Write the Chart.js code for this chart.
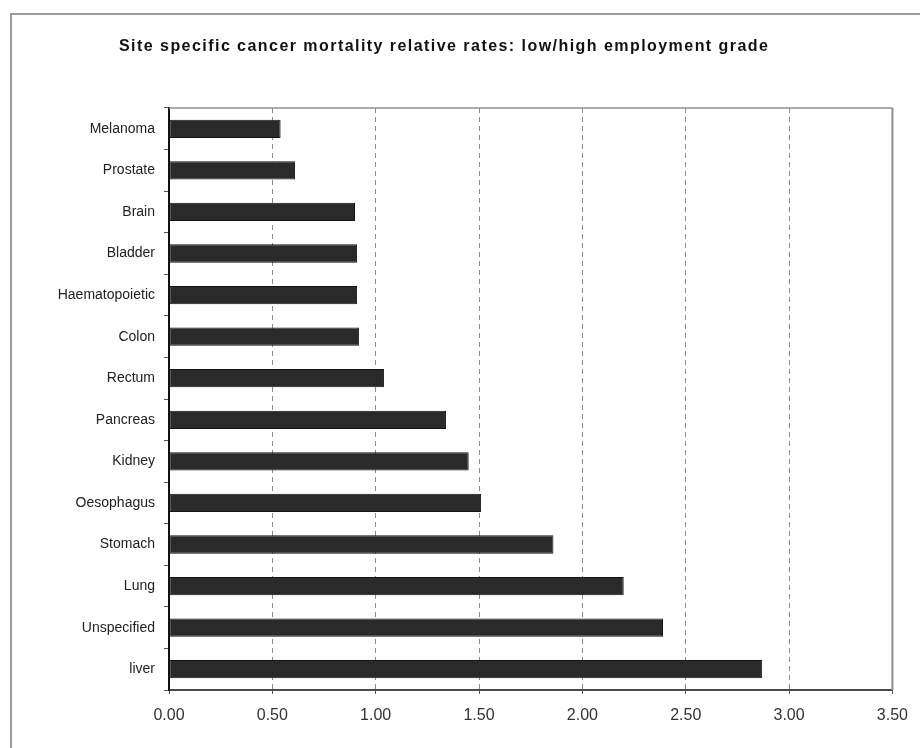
<!DOCTYPE html>
<html>
<head>
<meta charset="utf-8">
<title>Site specific cancer mortality relative rates</title>
<script src="https://cdn.jsdelivr.net/npm/chart.js@4/dist/chart.umd.min.js"></script>
<style>
  html, body { margin: 0; padding: 0; background: #fff; }
  #wrap { width: 920px; height: 748px; position: relative; }
</style>
</head>
<body>
<div id="wrap"><canvas id="chart" width="920" height="748"></canvas></div>
<script>
// Cancer sites, top to bottom
const sites = ['Melanoma', 'Prostate', 'Brain', 'Bladder', 'Haematopoietic', 'Colon', 'Rectum',
  'Pancreas', 'Kidney', 'Oesophagus', 'Stomach', 'Lung', 'Unspecified', 'liver'];

// Mortality relative rate, low vs high employment grade
const relativeRates = [0.54, 0.61, 0.90, 0.91, 0.91, 0.92, 1.04,
  1.34, 1.45, 1.51, 1.86, 2.20, 2.39, 2.87];

// Value axis range and step
const axisMin = 0;
const axisMax = 3.5;
const axisStep = 0.5;

const chartTitle = 'Site specific cancer mortality relative rates: low/high employment grade';

const FONT = "'Liberation Sans', Arial, Helvetica, sans-serif";

// Page frame, plot frame and title
const framePlugin = {
  id: 'frameAndTitle',
  beforeDraw(chart) {
    const ctx = chart.ctx;
    ctx.save();
    ctx.fillStyle = '#ffffff';
    ctx.fillRect(0, 0, chart.width, chart.height);
    ctx.strokeStyle = '#9c9c9c';
    ctx.lineWidth = 2;
    ctx.beginPath();
    ctx.moveTo(11, chart.height);
    ctx.lineTo(11, 14);
    ctx.lineTo(chart.width, 14);
    ctx.stroke();
    ctx.restore();
  },
  afterDraw(chart) {
    const ctx = chart.ctx;
    const a = chart.chartArea;
    ctx.save();
    ctx.strokeStyle = '#8f8f8f';
    ctx.lineWidth = 1.5;
    ctx.beginPath();
    ctx.moveTo(a.left, a.top);
    ctx.lineTo(a.right, a.top);
    ctx.stroke();
    ctx.lineWidth = 2;
    ctx.beginPath();
    ctx.moveTo(a.right, a.top);
    ctx.lineTo(a.right, a.bottom);
    ctx.stroke();

    ctx.fillStyle = '#111';
    ctx.font = 'bold 16px ' + FONT;
    ctx.textBaseline = 'middle';
    ctx.textAlign = 'left';
    if ('letterSpacing' in ctx) ctx.letterSpacing = '1.45px';
    ctx.fillText(chartTitle, 119, 47);
    ctx.restore();
  }
};

new Chart(document.getElementById('chart'), {
  type: 'bar',
  data: {
    labels: sites,
    datasets: [{
      data: relativeRates,
      backgroundColor: '#2a2a2a',
      borderColor: '#151515',
      borderWidth: 1,
      borderSkipped: false,
      categoryPercentage: 1,
      barPercentage: 0.44
    }]
  },
  options: {
    indexAxis: 'y',
    responsive: false,
    animation: false,
    events: [],
    layout: { padding: { top: 108, right: 27, left: 0, bottom: 0 } },
    plugins: {
      legend: { display: false },
      title: { display: false },
      tooltip: { enabled: false }
    },
    scales: {
      x: {
        min: axisMin,
        max: axisMax,
        afterFit(scale) { scale.height = 58; },
        ticks: {
          stepSize: axisStep,
          color: '#333',
          padding: 12,
          font: { family: FONT, size: 16 },
          callback: v => Number(v).toFixed(2)
        },
        grid: {
          color: c => (c.tick && c.tick.value === axisMin) ? 'rgba(0,0,0,0)' : '#8c8c8c',
          lineWidth: 1,
          tickColor: '#555',
          tickLength: 4
        },
        border: { display: true, color: '#4a4a4a', width: 2, dash: [5, 4] }
      },
      y: {
        afterFit(scale) { scale.width = 169; },
        ticks: {
          color: '#222',
          padding: 9,
          font: { family: FONT, size: 14 }
        },
        grid: {
          drawOnChartArea: false,
          offset: true,
          tickColor: '#555',
          tickLength: 5
        },
        border: { display: true, color: '#111', width: 2 }
      }
    }
  },
  plugins: [framePlugin]
});
</script>
</body>
</html>
